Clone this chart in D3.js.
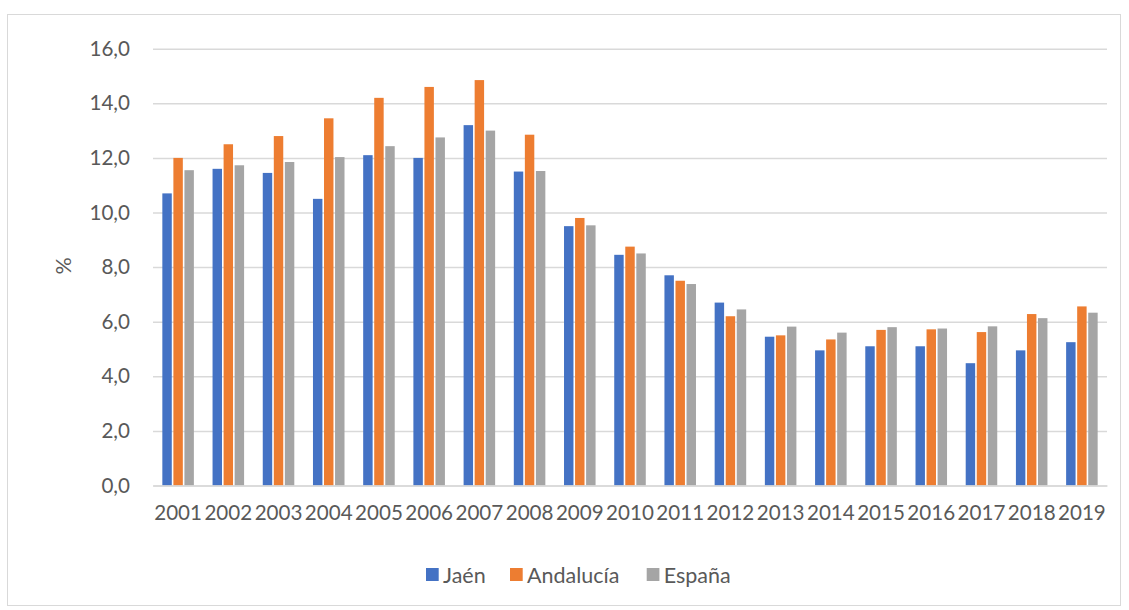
<!DOCTYPE html>
<html>
<head>
<meta charset="utf-8">
<script src="https://cdn.jsdelivr.net/npm/d3@7"></script>
<style>
  body { margin: 0; background: #fff; }
  svg { display: block; font-family: Lato, "Open Sans", sans-serif; }
</style>
</head>
<body>
<svg id="chart" width="1129" height="610"></svg>
<script>
// data
const years = ["2001","2002","2003","2004","2005","2006","2007","2008","2009","2010",
               "2011","2012","2013","2014","2015","2016","2017","2018","2019"]
const series = ["Jaén", "Andalucía", "España"]
const jaen      = [10.7, 11.6, 11.45, 10.5, 12.1, 12.0, 13.2, 11.5, 9.5, 8.45, 7.7, 6.7, 5.45, 4.95, 5.1, 5.1, 4.48, 4.95, 5.25]
const andalucia = [12.0, 12.5, 12.8, 13.45, 14.2, 14.6, 14.85, 12.85, 9.8, 8.75, 7.5, 6.2, 5.5, 5.35, 5.7, 5.72, 5.62, 6.28, 6.56]
const espana    = [11.55, 11.73, 11.85, 12.03, 12.43, 12.75, 13.0, 11.52, 9.53, 8.5, 7.38, 6.45, 5.82, 5.6, 5.8, 5.75, 5.83, 6.13, 6.33]
const yTicks = [0, 2, 4, 6, 8, 10, 12, 14, 16]
const colors = ["#4472C4", "#ED7D31", "#A5A5A5"]

const values = [jaen, andalucia, espana]
const table = years.map((y, i) => ({ year: y, vals: series.map((s, j) => ({ name: s, v: values[j][i], c: colors[j] })) }))

const svg = d3.select("#chart")
const margin = { top: 48.7, right: 22, bottom: 124.5, left: 153 }
const width = 1129, height = 610
const plotW = width - margin.left - margin.right
const plotH = height - margin.top - margin.bottom
const axisFont = "20.6px"
const legendFont = "21.5px"

// outer frame
svg.append("rect")
    .attr("x", 7.5).attr("y", 14.5)
    .attr("width", 1113).attr("height", 591)
    .attr("fill", "none")
    .attr("stroke", "#d9d9d9")
    .attr("stroke-width", 1)

const g = svg.append("g").attr("transform", `translate(${margin.left},${margin.top})`)

const x = d3.scaleBand().domain(years).range([0, plotW]).paddingInner(0.34).paddingOuter(0.17)
const xs = d3.scaleBand().domain(series).range([0, x.bandwidth()])
const y = d3.scaleLinear().domain([0, 16]).range([plotH, 0])

// gridlines
g.append("g")
    .call(d3.axisLeft(y).tickValues(yTicks).tickSize(-plotW).tickFormat(""))
    .call(a => a.select(".domain").remove())
    .call(a => a.selectAll("line").attr("stroke", "#d9d9d9").attr("stroke-width", 1.5))

// y tick labels
const yAxis = g.append("g")
    .call(d3.axisLeft(y).tickValues(yTicks).tickSize(0).tickPadding(23)
        .tickFormat(d => d3.format(".1f")(d).replace(".", ",")))
yAxis.select(".domain").remove()
yAxis.selectAll("text")
    .attr("fill", "#595959")
    .style("font-size", axisFont)
    .style("font-family", "Lato, 'Open Sans', sans-serif")

// bars
g.append("g").selectAll("g")
    .data(table)
    .join("g")
    .attr("transform", d => `translate(${x(d.year)},0)`)
    .selectAll("rect")
    .data(d => d.vals)
    .join("rect")
    .attr("x", d => xs(d.name) + 0.8)
    .attr("width", xs.bandwidth() - 1.6)
    .attr("y", d => y(d.v))
    .attr("height", d => y(0) - y(d.v))
    .attr("fill", d => d.c)

// x axis
const xAxis = g.append("g")
    .attr("transform", `translate(0,${plotH})`)
    .call(d3.axisBottom(x).tickSize(0).tickPadding(20))
xAxis.select(".domain").attr("stroke", "#d9d9d9").attr("stroke-width", 1.5)
xAxis.selectAll("text")
    .attr("fill", "#595959")
    .style("font-size", axisFont)
    .style("font-family", "Lato, 'Open Sans', sans-serif")

// y title
svg.append("text")
    .attr("transform", "translate(71,266) rotate(-90)")
    .attr("text-anchor", "middle")
    .attr("fill", "#595959")
    .style("font-size", legendFont)
    .text("%")

// legend
const legend = svg.append("g").attr("transform", "translate(426,575)")
const legX = [0, 84, 220.7]
const items = legend.selectAll("g")
    .data(series)
    .join("g")
    .attr("transform", (d, i) => `translate(${legX[i]},0)`)
items.append("rect")
    .attr("x", 0).attr("y", -7)
    .attr("width", 12.7).attr("height", 13)
    .attr("fill", (d, i) => colors[i])
items.append("text")
    .attr("x", 17).attr("y", 0)
    .attr("dy", "0.35em")
    .attr("fill", "#595959")
    .style("font-size", legendFont)
    .text(d => d)
</script>
</body>
</html>
